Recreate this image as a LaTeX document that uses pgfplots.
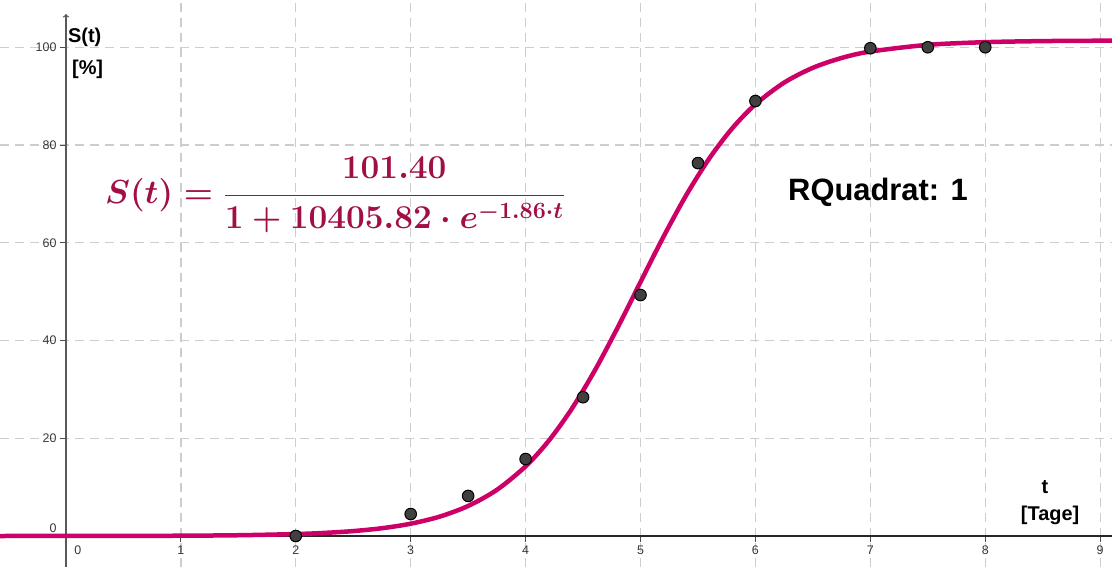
\RequirePackage{fix-cm}
\documentclass[border=0pt]{standalone}
\usepackage{pgfplots}
\pgfplotsset{compat=1.18}
\usepackage{fontspec}
\setmainfont{Liberation Sans}
\definecolor{curvec}{RGB}{204,0,102}
\definecolor{formulac}{RGB}{160,15,70}
\definecolor{gridc}{RGB}{205,205,205}
\definecolor{ptc}{RGB}{64,64,64}
\definecolor{tickc}{RGB}{55,55,55}
\begin{document}
\begin{tikzpicture}
\begin{axis}[
  scale only axis, width=1112bp, height=567bp,
  xmin=-0.574, xmax=9.103, ymin=-6.34, ymax=109.67,
  axis lines=middle,
  x axis line style={-, line width=1.3bp, color=black!85},
  y axis line style={draw=none},
  xtick={1,...,9}, ytick={20,40,...,100},
  tick align=outside,
  major tick length=6bp,
  tick style={line width=1bp, color=black!70},
  grid=major,
  grid style={gridc, line width=1.3bp, dash pattern=on 9bp off 6bp},
  ticklabel style={font=\fontsize{12.5}{14}\selectfont, text=tickc},
  /pgf/number format/assume math mode=true,
  clip=false,
]
\coordinate (sw) at (rel axis cs:0,0);
\coordinate (ne) at (rel axis cs:1,1);
\draw[-to, line width=1.3bp, color=black!65] (axis cs:0,-6.34) -- (axis cs:0,106.8);
\addplot[curvec, line width=4.5bp, smooth] table {
x y
-0.574 0.003
-0.5 0.004
0 0.010
0.5 0.025
1 0.063
1.5 0.159
2 0.401
2.25 0.636
2.5 1.009
2.75 1.597
3 2.519
3.25 3.952
3.5 6.149
3.75 9.448
4 14.256
4.2 19.45
4.4 25.97
4.6 33.78
4.8 42.61
5.0 51.97
5.2 61.24
5.4 69.83
5.6 77.31
5.8 83.47
6.0 88.32
6.25 92.77
6.5 95.80
6.75 97.81
7 99.12
7.5 100.49
8 101.04
8.5 101.26
9 101.34
9.103 101.35
};
\addplot[only marks, mark=*, mark size=5.8bp, mark options={fill=ptc, draw=black, line width=1bp}] coordinates {
(2,0) (3,4.5) (3.5,8.2) (4,15.75) (4.5,28.4) (5,49.3) (5.5,76.3) (6,89.0) (7,99.8) (7.5,100.0) (8,100.0)
};
\node[font=\fontsize{12.5}{14}\selectfont, text=tickc] at (axis cs:-0.113,1.64) {0};
\node[font=\fontsize{12.5}{14}\selectfont, text=tickc] at (axis cs:0.104,-2.86) {0};
\node[anchor=west, inner sep=0pt, font=\fontsize{20}{24}\selectfont\bfseries] at (axis cs:0.017,102.1) {S(t)};
\node[anchor=west, inner sep=0pt, font=\fontsize{20}{24}\selectfont\bfseries] at (axis cs:0.052,95.4) {[\%]};
\node[inner sep=0pt, font=\fontsize{20}{24}\selectfont\bfseries] at (axis cs:8.52,10.0) {t};
\node[inner sep=0pt, font=\fontsize{20}{24}\selectfont\bfseries] at (axis cs:8.564,4.3) {[Tage]};
\node[inner sep=0pt, font=\fontsize{31}{36}\selectfont\bfseries] at (axis cs:7.067,70.4) {RQuadrat: 1};
\node[inner sep=0pt, text=formulac, font={\boldmath\fontsize{33.5}{40}\selectfont}] at (axis cs:2.341,69.8)
  {$\displaystyle S(t) = \frac{101.40}{1 + 10405.82 \cdot e^{-1.86\cdot t}}$};
\end{axis}
\pgfresetboundingbox
\path[use as bounding box] (sw) rectangle (ne);
\end{tikzpicture}
\end{document}
